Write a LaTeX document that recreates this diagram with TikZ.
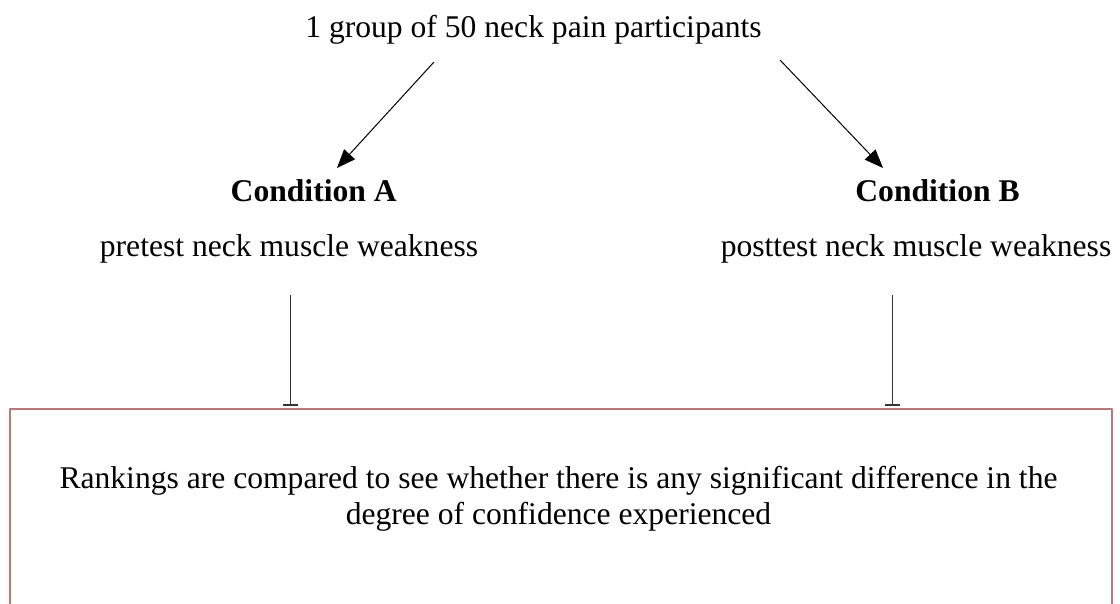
\documentclass[tikz,border=0pt]{standalone}
\usepackage{fontspec}
\setmainfont{Liberation Serif}
\usetikzlibrary{arrows.meta}
\definecolor{framebrown}{RGB}{183,122,122}
\begin{document}
\begin{tikzpicture}[x=0.75pt, y=-0.75pt, line join=round,
    lbl/.style={inner sep=0pt, anchor=base, font=\fontsize{23.7}{27.2}\selectfont},
    head/.style={lbl, font=\fontsize{23.7}{27.2}\selectfont\bfseries},
    split/.style={-{Triangle[length=14pt, width=11pt]}, line width=0.75pt},
    stem/.style={-{Bar[width=11pt, line width=1.2pt]}, line width=1.1pt, black!80},
    panel/.style={draw=framebrown, line width=1.6pt, inner sep=0pt, anchor=north west,
      minimum width=826.5pt, minimum height=180pt}]
  \useasboundingbox (0,0) rectangle (1120,603);
  \clip (0,0) rectangle (1120,603);
  % texts
  \node[lbl] (group) at (533.5,37) {1 group of 50 neck pain participants};
  \node[head] (condA) at (313.7,201.7) {Condition A};
  \node[head] (condB) at (937.5,201.7) {Condition B};
  \node[lbl] (preA) at (289,256.7) {pretest neck muscle weakness};
  \node[lbl] (postB) at (916,256.7) {posttest neck muscle weakness};
  \node[panel] (box) at (9,408) {};
  \node[lbl, anchor=center, align=center] (rank) at (558.5,498.5)
    {Rankings are compared to see whether there is any significant difference in the\\
     degree of confidence experienced};
  % connectors
  \coordinate (fromA) at (434,62);
  \coordinate (fromB) at (780,60);
  \coordinate (toA) at (337,168);
  \coordinate (toB) at (883,168);
  \draw[split] (fromA) -- (toA);
  \draw[split] (fromB) -- (toB);
  \coordinate (stemA) at (290.7,295);
  \coordinate (stemB) at (892.7,295);
  \draw[stem, shorten >=1.5pt] (stemA) -- (stemA |- box.north);
  \draw[stem, shorten >=1.5pt] (stemB) -- (stemB |- box.north);
\end{tikzpicture}
\end{document}
